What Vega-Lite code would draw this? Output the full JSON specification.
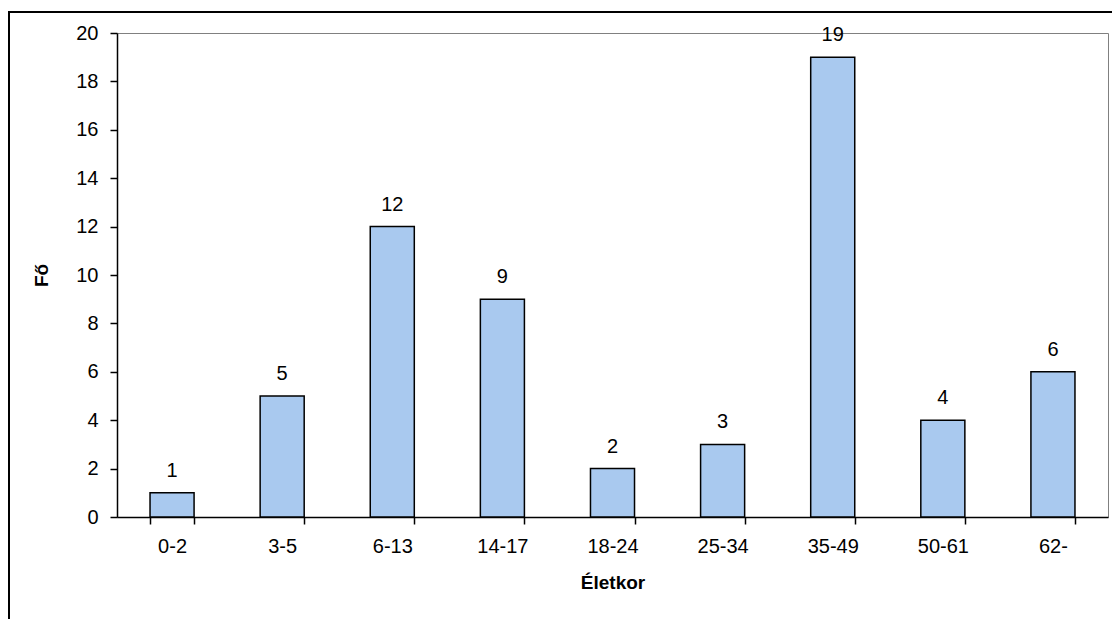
{
  "$schema": "https://vega.github.io/schema/vega-lite/v6.json",
  "autosize": "none",
  "width": 991,
  "height": 484,
  "padding": {"left": 117, "top": 33, "right": 4, "bottom": 102},
  "background": "white",
  "config": {
    "view": {"stroke": "#808080", "strokeWidth": 1},
    "font": "Liberation Sans",
    "axis": {
      "domainColor": "black",
      "domainWidth": 1.5,
      "tickColor": "black",
      "tickWidth": 1.5,
      "tickSize": 7,
      "labelFont": "Liberation Sans",
      "labelFontSize": 20,
      "labelColor": "black",
      "titleFont": "Liberation Sans",
      "titleFontSize": 19,
      "titleFontWeight": "bold",
      "titleColor": "black",
      "grid": false
    }
  },
  "layer": [
    {
      "data": {"values": [{}]},
      "mark": {"type": "rect", "fill": null, "stroke": "black", "strokeWidth": 2, "clip": false},
      "encoding": {
        "x": {"value": -108},
        "y": {"value": -21},
        "x2": {"value": 1100},
        "y2": {"value": 700}
      }
    },
    {
      "data": {
        "values": [
          {"kor": "0-2", "fo": 1},
          {"kor": "3-5", "fo": 5},
          {"kor": "6-13", "fo": 12},
          {"kor": "14-17", "fo": 9},
          {"kor": "18-24", "fo": 2},
          {"kor": "25-34", "fo": 3},
          {"kor": "35-49", "fo": 19},
          {"kor": "50-61", "fo": 4},
          {"kor": "62-", "fo": 6}
        ]
      },
      "encoding": {
        "x": {
          "field": "kor",
          "type": "nominal",
          "sort": null,
          "scale": {"paddingInner": 0.6, "paddingOuter": 0.3},
          "axis": {
            "title": "Életkor",
            "labelAngle": 0,
            "tickBand": "extent",
            "labelPadding": 12,
            "titlePadding": 17
          }
        },
        "y": {
          "field": "fo",
          "type": "quantitative",
          "scale": {"domain": [0, 20], "nice": false},
          "axis": {
            "title": "Fő",
            "values": [0, 2, 4, 6, 8, 10, 12, 14, 16, 18, 20],
            "labelPadding": 12,
            "titlePadding": 24
          }
        }
      },
      "layer": [
        {
          "mark": {"type": "bar", "fill": "#a9c9ef", "stroke": "black", "strokeWidth": 1.5}
        },
        {
          "mark": {"type": "text", "baseline": "bottom", "dy": -12, "fontSize": 20, "color": "black"},
          "encoding": {"text": {"field": "fo", "type": "quantitative"}}
        }
      ]
    }
  ]
}
